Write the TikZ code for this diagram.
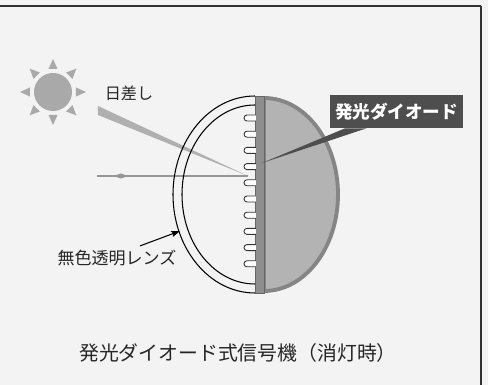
\documentclass[tikz,border=0pt]{standalone}
\usepackage{fontspec}
\setmainfont{Noto Sans CJK JP}
\usetikzlibrary{arrows.meta}

\definecolor{fondo}{HTML}{F3F3F3}
\definecolor{solgris}{HTML}{A9A9A9}
\definecolor{rayogris}{HTML}{B0B0B0}
\definecolor{barragris}{HTML}{8E8E8E}
\definecolor{domogris}{HTML}{B3B3B3}
\definecolor{bordegris}{HTML}{858585}
\definecolor{cajagris}{HTML}{4E4E4E}

\tikzset{
  rotulo/.style={inner sep=1pt, text=black!85},
  led/.style={draw=black!80, line width=0.5pt, fill=white}
}

\begin{document}
\begin{tikzpicture}[x=0.02cm,y=0.02cm]

		% Fondo y marco
		\fill[fondo] (0,0) rectangle (488,385);
		\useasboundingbox (0,0) rectangle (488,385);
		\draw[line width=1.4pt, black!80] (0,379) -- (481,379);
		\draw[line width=0.8pt, black!80] (481,379) -- (481,0);

		% Sol
		\node[circle, fill=solgris, minimum size=0.76cm, inner sep=0pt] (sun) at (53,293) {};
		\foreach \a in {0,45,...,315}
			\fill[solgris, shift={(sun.center)}, rotate=\a] (33,0) -- (23,4.5) -- (23,-4.5) -- cycle;
		\node[rotulo, font=\fontsize{9.2}{11}\selectfont] (sunlbl) at (129,292) {日差し};

		% Rayo de sol y reflejo
		\coordinate (tip) at (248,209);
		\coordinate (out) at (97,209);
		\fill[rayogris] (98,279) -- (tip) -- (98,270) -- cycle;
		\draw[rayogris!85!black, line width=1.2pt] (tip) -- (out);
		\fill[rayogris!85!black] (113,209) -- (121,211.5) -- (128,209) -- (121,206.5) -- cycle;

		% Lente
		\draw[line width=0.6pt] (255,289) arc[start angle=90, end angle=270, x radius=82, y radius=98.5];
		\draw[line width=0.6pt] (255,280) arc[start angle=90, end angle=270, x radius=73, y radius=89.5];

		% Cúpula y placa
		\filldraw[fill=domogris, draw=bordegris, line width=2.2pt] (264,287) arc[start angle=90, end angle=-90, x radius=74, y radius=96.5] -- cycle;
		\filldraw[fill=barragris, draw=black!60, line width=0.4pt] (255,92) rectangle (264,289);

		% Diodos
		\foreach \k [evaluate=\k as \yy using 267-16.2*\k] in {0,...,9}
			\draw[led] (256,\yy+3) -- (247,\yy+3) arc[start angle=90, end angle=270, radius=3] -- (256,\yy-3);

		% Rótulo del diodo
		\node[fill=cajagris, text=white, minimum width=2.66cm, minimum height=0.66cm, inner sep=0pt,
			font=\fontsize{10}{12}\selectfont\bfseries] (ledlbl) at (396.5,273.5) {発光ダイオード};
		\coordinate (ledpt) at (262,222);
		\fill[cajagris] ([xshift=-1.03cm]ledlbl.south) -- (ledpt) -- ([xshift=-0.6cm]ledlbl.south) -- cycle;

		% Rótulo de la lente
		\node[rotulo, font=\fontsize{9.7}{11}\selectfont] (lenslbl) at (117,127) {無色透明レンズ};
		\coordinate (lensedge) at (180,154);
		\draw[-{Stealth[length=5pt, width=3.5pt, inset=1pt]}, line width=0.6pt] ([xshift=0.46cm, yshift=0.04cm]lenslbl.north) -- (lensedge);

		% Título
		\node[rotulo, font=\fontsize{11.3}{13}\selectfont] (caption) at (238,32) {発光ダイオード式信号機（消灯時）};

	\end{tikzpicture}
\end{document}
